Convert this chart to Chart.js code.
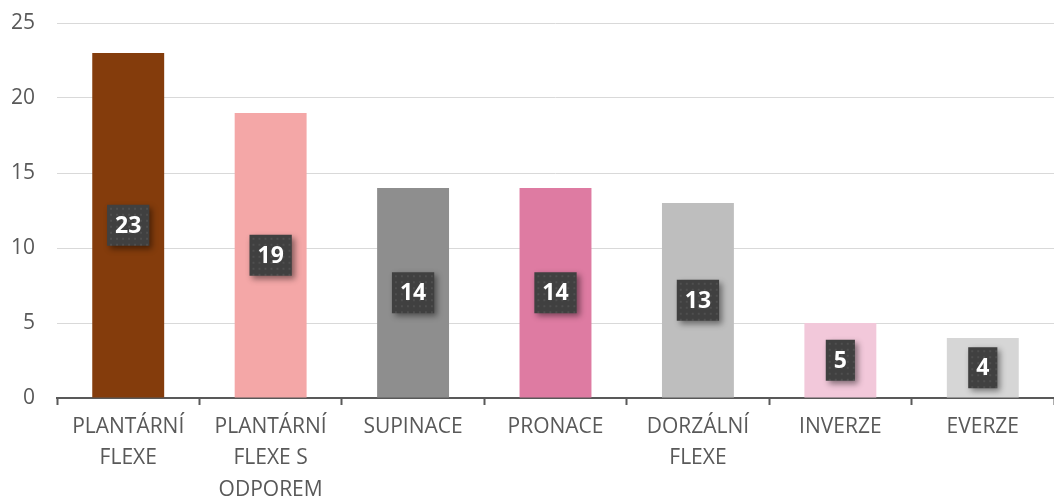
<!DOCTYPE html>
<html>
<head>
<meta charset="utf-8">
<script src="https://cdn.jsdelivr.net/npm/chart.js@4"></script>
<style>
  body { margin: 0; background: #ffffff; }
</style>
</head>
<body>
<canvas id="graf" width="1054" height="496"></canvas>
<script>
// kategorie a hodnoty
const kategorie = [
    ["PLANTÁRNÍ", "FLEXE"],
    ["PLANTÁRNÍ", "FLEXE S", "ODPOREM"],
    "SUPINACE",
    "PRONACE",
    ["DORZÁLNÍ", "FLEXE"],
    "INVERZE",
    "EVERZE"
];
const hodnoty = [23, 19, 14, 14, 13, 5, 4];
const barvy = ["#843c0c", "#f4a7a7", "#8e8e8e", "#de7ba2", "#bebebe", "#f2c8da", "#d6d6d6"];
const osaY = [0, 5, 10, 15, 20, 25];

const pismo = "'Open Sans', 'Noto Sans', sans-serif";

// popisky hodnot v tmavych ramecich uprostred sloupcu
const popiskyPlugin = {
    id: "popisky",
    afterDatasetsDraw(chart) {
        const ctx = chart.ctx;
        const meta = chart.getDatasetMeta(0);
        ctx.save();
        ctx.font = "bold 23px " + pismo;
        ctx.textAlign = "center";
        ctx.textBaseline = "middle";
        meta.data.forEach((bar, i) => {
            const text = String(hodnoty[i]);
            const w = ctx.measureText(text).width + 16;
            const h = 41;
            const cx = bar.x;
            const cy = (bar.y + bar.base) / 2;
            // stin
            ctx.shadowColor = "rgba(0,0,0,0.45)";
            ctx.shadowBlur = 6;
            ctx.shadowOffsetX = 3;
            ctx.shadowOffsetY = 3;
            ctx.fillStyle = "#404040";
            ctx.fillRect(cx - w / 2, cy - h / 2, w, h);
            ctx.shadowColor = "transparent";
            // jemny teckovany vzor
            ctx.fillStyle = "rgba(255,255,255,0.08)";
            for (let px = cx - w / 2 + 3; px < cx + w / 2; px += 6) {
                for (let py = cy - h / 2 + 3; py < cy + h / 2; py += 6) {
                    ctx.fillRect(px, py, 2, 2);
                }
            }
            ctx.fillStyle = "#ffffff";
            ctx.fillText(text, cx, cy + 1);
        });
        ctx.restore();
    }
};

const graf = new Chart(document.getElementById("graf").getContext("2d"), {
    type: "bar",
    data: {
        labels: kategorie,
        datasets: [{
            data: hodnoty,
            backgroundColor: barvy,
            borderWidth: 0,
            categoryPercentage: 1.0,
            barPercentage: 0.505
        }]
    },
    options: {
        responsive: false,
        animation: false,
        layout: { padding: 0 },
        plugins: {
            legend: { display: false },
            tooltip: { enabled: false }
        },
        scales: {
            x: {
                grid: {
                    display: true,
                    offset: true,
                    drawOnChartArea: false,
                    drawTicks: true,
                    tickLength: 7,
                    tickWidth: 2,
                    color: "#595959"
                },
                border: { color: "#595959", width: 2 },
                ticks: {
                    color: "#595959",
                    font: { family: pismo, size: 21, lineHeight: 1.5 },
                    maxRotation: 0,
                    padding: 6
                },
                afterFit(scale) { scale.height = 98; }
            },
            y: {
                min: 0,
                max: 25,
                afterBuildTicks(scale) { scale.ticks = osaY.map(v => ({ value: v })); },
                grid: { color: "#d9d9d9", lineWidth: 1, drawTicks: false },
                border: { display: false },
                ticks: {
                    color: "#595959",
                    font: { family: pismo, size: 21 },
                    padding: 22
                },
                afterFit(scale) {
                    scale.width = 57;
                    scale.paddingTop = 23;
                    scale.paddingBottom = 0;
                }
            }
        }
    },
    plugins: [popiskyPlugin]
});
</script>
</body>
</html>
